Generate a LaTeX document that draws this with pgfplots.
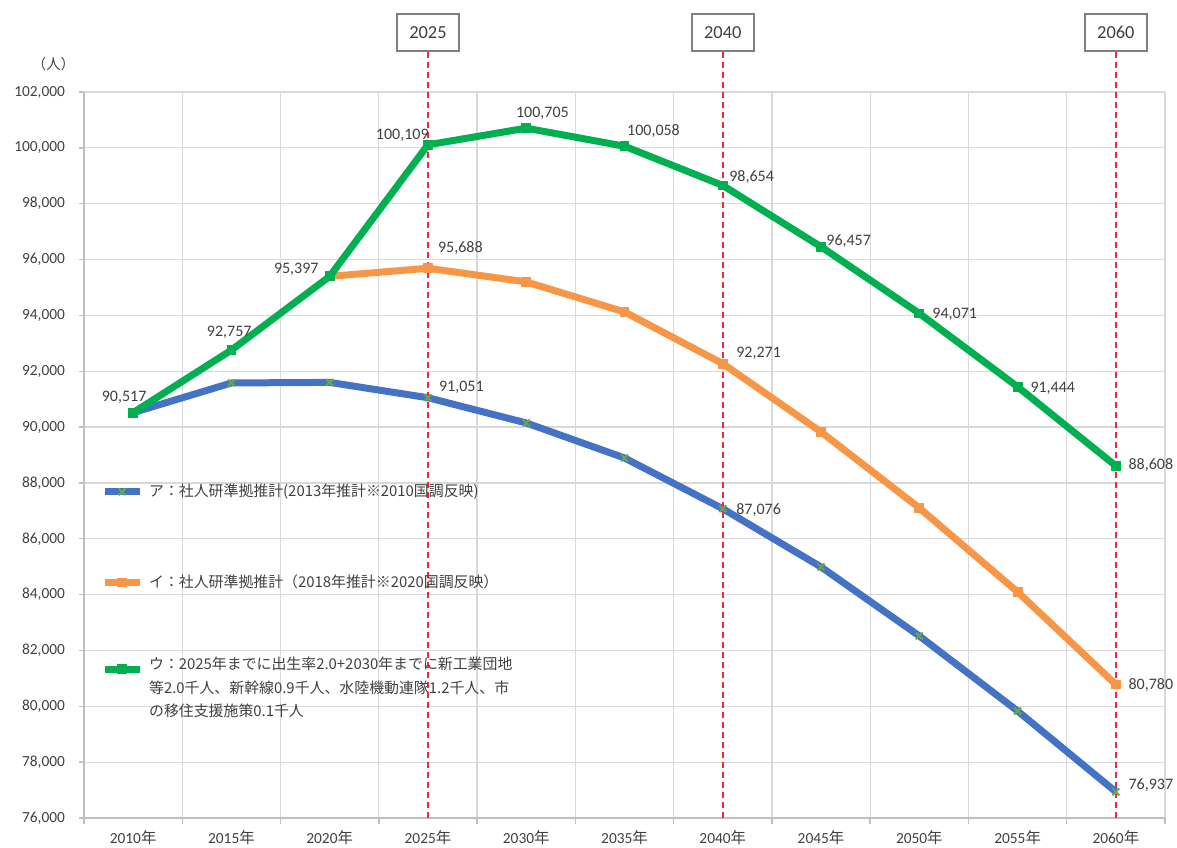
\documentclass[border=0pt]{standalone}
\usepackage{fontspec}
\setmainfont{Carlito}
\newfontfamily\jp{Noto Sans CJK JP}
\usepackage{pgfplots}
\usepackage{pgfplotstable}
\pgfplotsset{compat=1.18}

\definecolor{serA}{RGB}{68,114,196}
\definecolor{serB}{RGB}{247,150,70}
\definecolor{serC}{RGB}{0,176,80}
\definecolor{mkA}{RGB}{105,165,80}
\definecolor{gridc}{RGB}{217,217,217}
\definecolor{axc}{RGB}{191,191,191}
\definecolor{txt}{RGB}{64,64,64}
\definecolor{reddash}{RGB}{240,40,60}

% population by year (index 0 = 2010, 10 = 2060)
\pgfplotstableread{
x  A      B      C
0  90517  nan    90517
1  91580  nan    92757
2  91600  95397  95397
3  91051  95688  100109
4  90148  95198  100705
5  88894  94123  100058
6  87076  92271  98654
7  84990  89825  96457
8  82519  87103  94071
9  79832  84095  91444
10 76937  80780  88608
}\datatab

\tikzset{
  yrline/.style={reddash, line width=1pt, dash pattern=on 3pt off 2pt},
  yrbox/.style={draw=gray, line width=0.75pt, fill=white, anchor=south, inner sep=0pt,
    minimum width=31pt, minimum height=18.5pt, text=txt, font=\fontsize{9.2}{10}\selectfont},
}

\begin{document}
\begin{tikzpicture}
\begin{axis}[
  name=ax,
  scale only axis, width=540.5pt, height=363pt,
  xmin=-0.5, xmax=10.5, ymin=76000, ymax=102000,
  axis x line*=bottom, axis y line*=left,
  axis line style={axc, line width=0.7pt, -},
  xtick={0,...,10},
  xticklabels={2010{\jp 年},2015{\jp 年},2020{\jp 年},2025{\jp 年},2030{\jp 年},2035{\jp 年},2040{\jp 年},2045{\jp 年},2050{\jp 年},2055{\jp 年},2060{\jp 年}},
  minor xtick={-0.5,0.5,...,10.5},
  ytick={76000,78000,...,102000},
  scaled y ticks=false,
  xminorgrids, ymajorgrids,
  grid style={gridc, line width=0.6pt},
  minor grid style={gridc, line width=0.6pt},
  major x tick style={draw=none},
  tick align=outside,
  major tick length=2.5pt, minor tick length=3pt,
  tick style={axc, line width=0.7pt},
  /pgf/number format/assume math mode=true,
  /pgf/number format/.cd, fixed, 1000 sep={,},
  /pgfplots/.cd,
  ticklabel style={font=\fontsize{7.7}{9.2}\selectfont, text=txt},
  yticklabel style={xshift=-3.5pt},
  unbounded coords=discard,
  clip=false,
  legend cell align=left,
  legend style={at={(axis cs:-0.33,88120)}, anchor=north west, draw=none, fill=none,
    inner sep=0pt, row sep=33.5pt, column sep=1pt,
    font=\jp\fontsize{7.45}{11.75}\selectfont, text=txt},
  legend image code/.code={\draw[mark repeat=2,mark phase=2,#1] plot coordinates {(0pt,0pt) (8.75pt,0pt) (17.5pt,0pt)};},
]
\addplot[serA, line width=3.5pt, line join=round, mark=x, mark size=2.4pt,
  mark options={mkA, line width=1pt, solid}] table[x=x, y=A]{\datatab};
\addlegendentry{ア：社人研準拠推計(2013年推計※2010国調反映)}
\addplot[serB, line width=3.5pt, line join=round, mark=square*, mark size=2.2pt,
  mark options={serB, line width=0.5pt, solid}] table[x=x, y=B]{\datatab};
\addlegendentry{イ：社人研準拠推計（2018年推計※2020国調反映）}
\addplot[serC, line width=3.5pt, line join=round, mark=square*, mark size=2.2pt,
  mark options={serC, line width=0.5pt, solid}] table[x=x, y=C]{\datatab};
\addlegendentry{\raisebox{0pt}[2.2pt][0pt]{\begin{tabular}[t]{@{}l@{}}ウ：2025年までに出生率2.0+2030年までに新工業団地\\等2.0千人、新幹線0.9千人、水陸機動連隊1.2千人、市\\の移住支援施策0.1千人\end{tabular}}}

% milestone years
\draw[yrline] (axis cs:3,76000) -- (axis cs:3,103436);
\draw[yrline] (axis cs:6,76000) -- (axis cs:6,103436);
\draw[yrline] (axis cs:10,76000) -- (axis cs:10,103436);
\node[yrbox] at (axis cs:3,103436) {2025};
\node[yrbox] at (axis cs:6,103436) {2040};
\node[yrbox] at (axis cs:10,103436) {2060};

% unit
\node[font=\jp\fontsize{7.2}{8}\selectfont, text=txt] at (axis cs:-0.81,103000) {（人）};

% data labels
\begin{scope}[every node/.style={font=\fontsize{8}{9.6}\selectfont, text=txt, inner sep=0pt}]
\node at (axis cs:-0.092,91079) {90,517};
\node at (axis cs:0.978,93407) {92,757};
\node at (axis cs:1.660,95664) {95,397};
\node at (axis cs:2.739,100463) {100,109};
\node at (axis cs:4.165,101251) {100,705};
\node at (axis cs:5.295,100606) {100,058};
\node at (axis cs:6.293,98959) {98,654};
\node at (axis cs:7.281,96666) {96,457};
\node at (axis cs:8.360,94052) {94,071};
\node at (axis cs:9.358,91401) {91,444};
\node at (axis cs:10.356,88643) {88,608};
\node at (axis cs:3.330,96416) {95,688};
\node at (axis cs:6.365,92655) {92,271};
\node at (axis cs:10.356,80764) {80,780};
\node at (axis cs:3.340,91437) {91,051};
\node at (axis cs:6.365,87032) {87,076};
\node at (axis cs:10.356,77182) {76,937};
\end{scope}
\end{axis}
\pgfresetboundingbox
\path[use as bounding box] ([shift={(-42pt,-14.5pt)}]ax.south west) rectangle ([shift={(6pt,46pt)}]ax.north east);
\end{tikzpicture}
\end{document}
